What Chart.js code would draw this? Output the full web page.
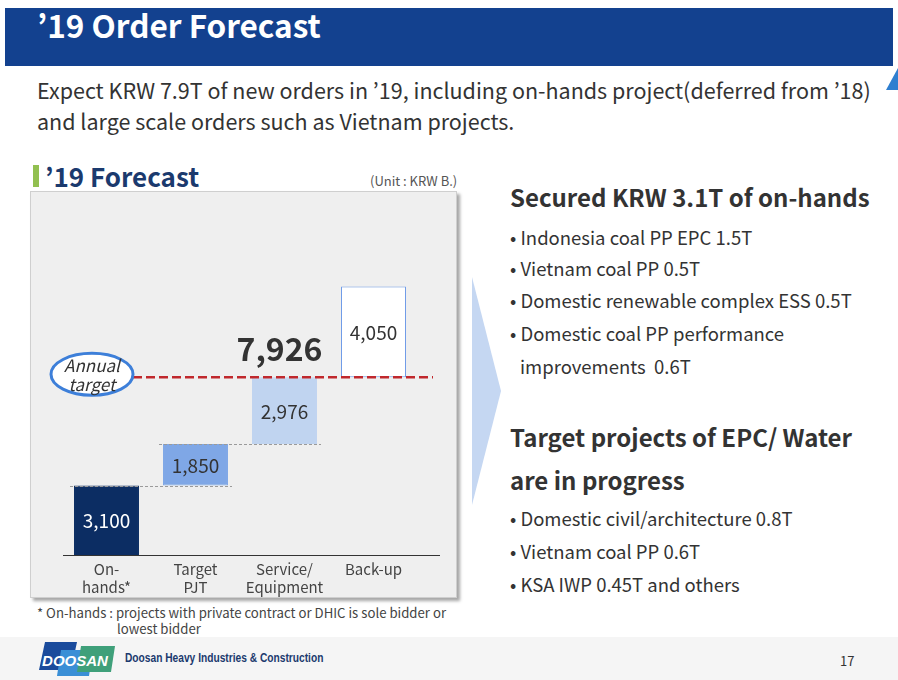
<!DOCTYPE html>
<html>
<head>
<meta charset="utf-8">
<script src="https://cdn.jsdelivr.net/npm/chart.js@4.4.0/dist/chart.umd.min.js"></script>
<style>
  body { margin:0; width:898px; height:680px; background:#fff; position:relative; overflow:hidden;
         font-family:"Noto Sans CJK KR","Noto Sans",sans-serif; color:#333; }
  .abs { position:absolute; white-space:nowrap; }
  #header { left:5px; top:8px; width:888px; height:58px; background:#13418f; }
  #title { left:32px; top:-7px; font-size:31.5px; font-weight:bold; color:#fff; }
  .sub { left:37px; font-size:21.5px; color:#333; }
  #bar-green { left:33px; top:165px; width:6px; height:22px; background:#92c050; }
  #fc-title { left:45px; top:157px; font-size:26px; font-weight:bold; color:#1b3a6e; }
  #unit { left:370px; top:171px; font-size:13px; color:#555; }
  #box { left:30px; top:191px; width:425px; height:405px; background:#efefef; border:1px solid #cfcfcf;
         box-shadow:3px 3px 3px rgba(0,0,0,0.35); }
  #chart-wrap { left:30px; top:191px; width:426px; height:410px; }
  .note { font-size:13.2px; color:#444; }
  #footer { left:0; top:637px; width:898px; height:43px; background:#f5f5f5; }
  .rh { left:510px; font-size:24px; font-weight:bold; color:#333; }
  .bl { left:510px; font-size:18.5px; color:#333; }
</style>
</head>
<body>
<div id="header" class="abs"><div id="title" class="abs">’19 Order Forecast</div></div>
<svg class="abs" style="left:878px;top:66px" width="20" height="26"><polygon points="8,24 20,2 20,24" fill="#2f7fd0"/></svg>
<div class="abs sub" style="top:74px">Expect KRW 7.9T of new orders in ’19, including on-hands project(deferred from ’18)</div>
<div class="abs sub" style="top:105px">and large scale orders such as Vietnam projects.</div>

<div id="bar-green" class="abs"></div>
<div id="fc-title" class="abs">’19 Forecast</div>
<div id="unit" class="abs">(Unit : KRW B.)</div>
<div id="box" class="abs"></div>
<div id="chart-wrap" class="abs"><canvas id="forecast-chart" width="426" height="410"></canvas></div>

<div class="abs note" style="left:37px;top:603px">* On-hands : projects with private contract or DHIC is sole bidder or</div>
<div class="abs note" style="left:117px;top:619px">lowest bidder</div>

<svg class="abs" style="left:470px;top:270px" width="40" height="245"><polygon points="2,7 31,121 2,235" fill="#c5d7f2"/></svg>

<div class="abs rh" style="top:179px">Secured KRW 3.1T of on-hands</div>
<div class="abs bl" style="top:224px">• Indonesia coal PP EPC 1.5T</div>
<div class="abs bl" style="top:255px">• Vietnam coal PP 0.5T</div>
<div class="abs bl" style="top:287px">• Domestic renewable complex ESS 0.5T</div>
<div class="abs bl" style="top:320px">• Domestic coal PP performance</div>
<div class="abs bl" style="top:353px;left:520px">improvements&nbsp; 0.6T</div>
<div class="abs rh" style="top:419px">Target projects of EPC/ Water</div>
<div class="abs rh" style="top:462px">are in progress</div>
<div class="abs bl" style="top:505px">• Domestic civil/architecture 0.8T</div>
<div class="abs bl" style="top:538px">• Vietnam coal PP 0.6T</div>
<div class="abs bl" style="top:571px">• KSA IWP 0.45T and others</div>

<div id="footer" class="abs">
  <svg class="abs" style="left:37px;top:3px" width="80" height="38">
    <polygon points="8,2 40,2 34,30 2,30" fill="#1a4b9c"/>
    <polygon points="24,10 56,10 52,36 20,36" fill="#3a8fd6"/>
    <polygon points="44,6 78,6 74,32 40,32" fill="#3fa07a"/>
    <text x="38" y="26" text-anchor="middle" font-family="Liberation Sans" font-style="italic" font-weight="bold" font-size="15" fill="#fff">DOOSAN</text>
  </svg>
  <div class="abs" style="left:125px;top:14px;font-family:'Liberation Sans';font-weight:bold;font-size:12px;color:#1b3a6e;transform:scaleX(0.85);transform-origin:0 0">Doosan Heavy Industries &amp; Construction</div>
  <div class="abs" style="left:840px;top:14px;font-size:13px;color:#333">17</div>
</div>

<script>
const categories = [['On-', 'hands*'], ['Target', 'PJT'], ['Service/', 'Equipment'], 'Back-up'];
const increments = [3100, 1850, 2976, 4050];
const valueLabels = ['3,100', '1,850', '2,976', '4,050'];
const annualTarget = 7926;
const annualTargetLabel = '7,926';

const barColors = ['#0c2d63', '#7fa7e6', '#c0d4f0', '#ffffff'];
const borderColors = ['#0c2d63', '#7fa7e6', '#c0d4f0', '#6f9be8'];
const labelColors = ['#ffffff', '#333333', '#333333', '#333333'];

// waterfall ranges built from the increments
let ranges = [];
let running = 0;
for (let i = 0; i < increments.length; i++) {
    ranges.push([running, running + increments[i]]);
    running += increments[i];
}

const overlay = {
    id: 'overlay',
    afterDatasetsDraw(chart) {
        const ctx = chart.ctx;
        const y = chart.scales.y;
        const area = chart.chartArea;
        const meta = chart.getDatasetMeta(0);

        ctx.save();
        // connectors between steps
        ctx.strokeStyle = '#9a9a9a';
        ctx.lineWidth = 1;
        ctx.setLineDash([3, 2]);
        for (let i = 0; i < 2; i++) {
            const b = meta.data[i];
            const n = meta.data[i + 1];
            const yy = Math.round(y.getPixelForValue(ranges[i][1])) + 0.5;
            ctx.beginPath();
            ctx.moveTo(b.x - b.width / 2 - 4, yy);
            ctx.lineTo(n.x + n.width / 2 + 4, yy);
            ctx.stroke();
        }

        // baseline
        ctx.setLineDash([]);
        ctx.strokeStyle = '#333';
        const by = Math.round(y.getPixelForValue(0)) + 0.5;
        ctx.beginPath();
        ctx.moveTo(area.left + 1, by);
        ctx.lineTo(area.right + 22, by);
        ctx.stroke();

        // annual target line
        const ty = y.getPixelForValue(annualTarget);
        ctx.strokeStyle = '#c0282d';
        ctx.lineWidth = 2.5;
        ctx.setLineDash([9, 4]);
        ctx.beginPath();
        ctx.moveTo(area.left + 71, ty);
        ctx.lineTo(area.right + 15, ty);
        ctx.stroke();
        ctx.setLineDash([]);

        // ellipse callout
        ctx.fillStyle = '#ffffff';
        ctx.strokeStyle = '#3d7fd9';
        ctx.lineWidth = 3;
        ctx.beginPath();
        ctx.ellipse(area.left + 30, ty - 3, 41, 21, 0, 0, Math.PI * 2);
        ctx.fill();
        ctx.stroke();
        ctx.fillStyle = '#333';
        ctx.font = 'italic 17px "Noto Sans CJK KR", "Noto Sans", sans-serif';
        ctx.textAlign = 'center';
        ctx.textBaseline = 'middle';
        ctx.fillText('Annual', area.left + 30, ty - 12);
        ctx.fillText('target', area.left + 30, ty + 7);

        // bar values
        ctx.font = '19px "Noto Sans CJK KR", "Noto Sans", sans-serif';
        for (let i = 0; i < meta.data.length; i++) {
            const b = meta.data[i];
            const cy = (y.getPixelForValue(ranges[i][0]) + y.getPixelForValue(ranges[i][1])) / 2;
            ctx.fillStyle = labelColors[i];
            ctx.fillText(valueLabels[i], b.x, cy + 1);
        }

        // total
        ctx.fillStyle = '#333';
        ctx.font = 'bold 32px "Noto Sans CJK KR", "Noto Sans", sans-serif';
        ctx.fillText(annualTargetLabel, meta.data[2].x - 5, ty - 28);
        ctx.restore();
    }
};

const ctx = document.getElementById('forecast-chart').getContext('2d');
const chart = new Chart(ctx, {
    type: 'bar',
    data: {
        labels: categories,
        datasets: [{
            data: ranges,
            backgroundColor: barColors,
            borderColor: borderColors,
            borderWidth: 1,
            borderSkipped: false,
            categoryPercentage: 1,
            barPercentage: 0.73
        }]
    },
    options: {
        responsive: false,
        animation: false,
        maintainAspectRatio: false,
        layout: { padding: { left: 32, right: 38, top: 95, bottom: 0 } },
        plugins: { legend: { display: false }, tooltip: { enabled: false } },
        scales: {
            x: {
                grid: { display: false, drawTicks: false },
                border: { display: false },
                ticks: {
                    color: '#444',
                    font: { family: '"Noto Sans CJK KR", "Noto Sans", sans-serif', size: 15 },
                    padding: 5,
                    maxRotation: 0
                }
            },
            y: { display: false, min: 0, max: 12000 }
        }
    },
    plugins: [overlay]
});
</script>
</body>
</html>
